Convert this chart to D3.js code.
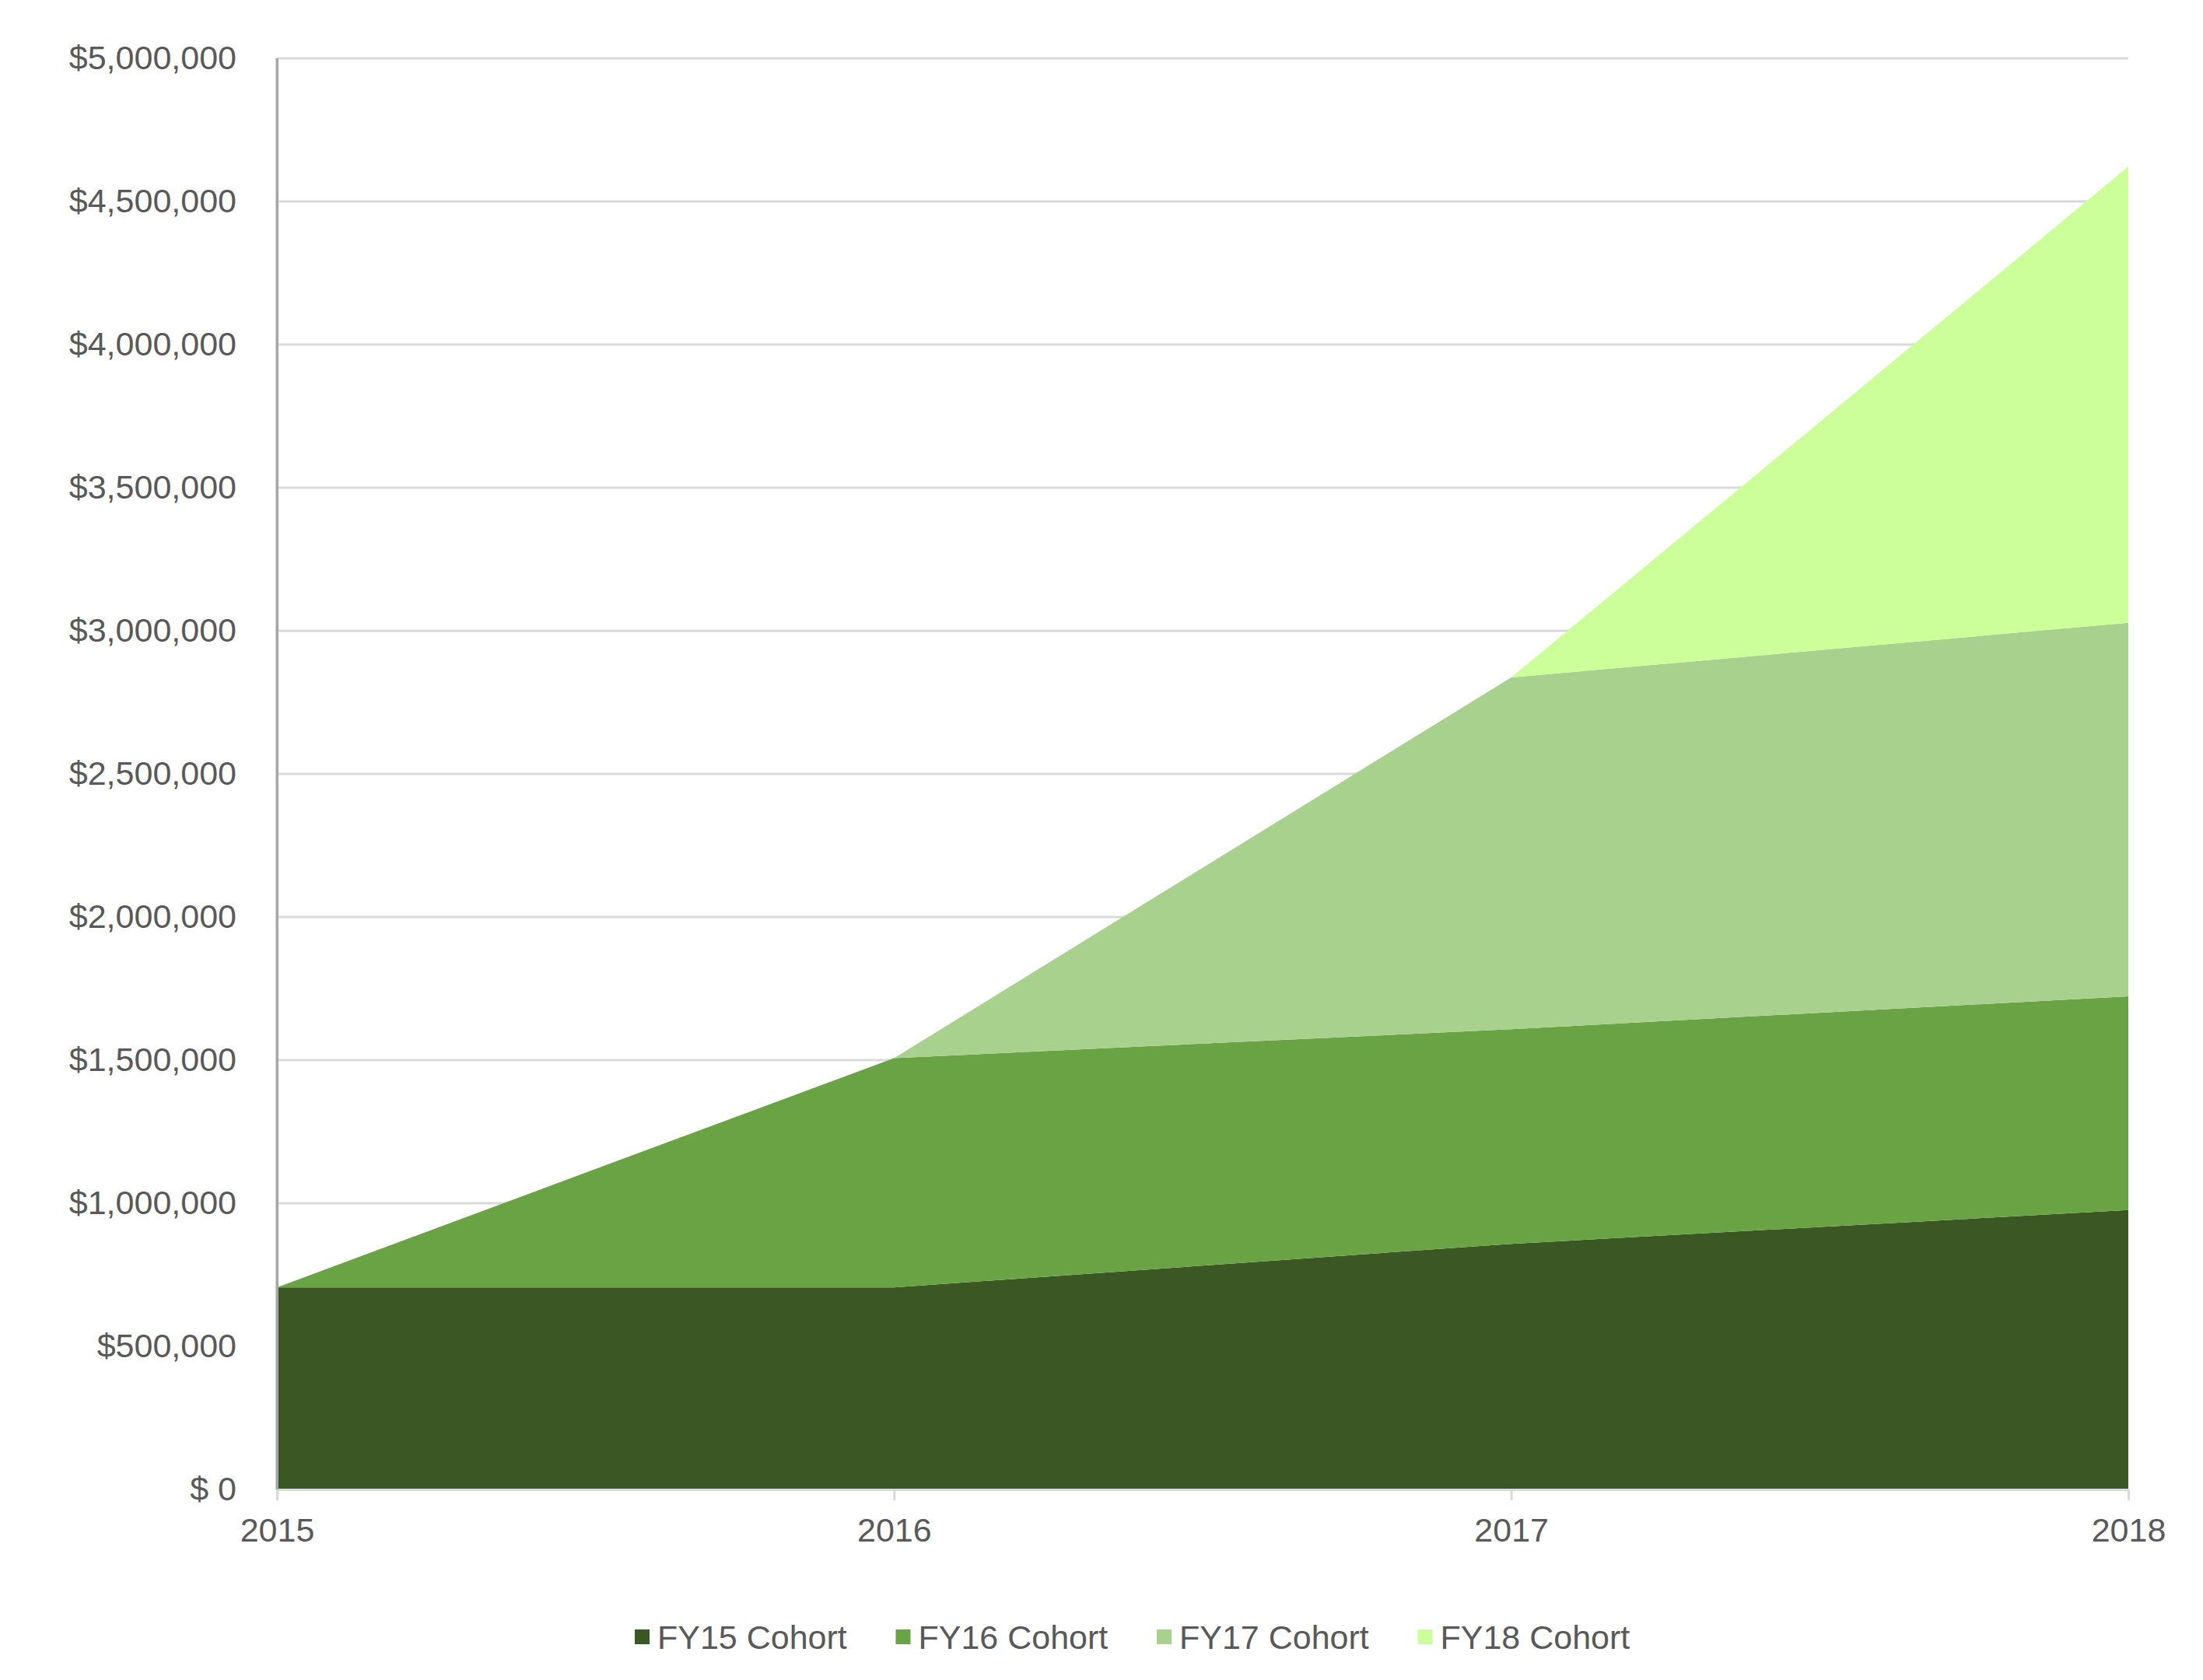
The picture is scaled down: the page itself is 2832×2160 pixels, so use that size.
<!DOCTYPE html>
<html>
<head>
<meta charset="utf-8">
<script src="https://cdn.jsdelivr.net/npm/d3@7"></script>
<style>
  html, body { margin: 0; padding: 0; background: #ffffff; }
  svg { display: block; }
  text { font-family: "Liberation Sans", Arial, sans-serif; fill: #595959; }
</style>
</head>
<body>
<svg id="chart" width="2832" height="2160"></svg>
<script>
// ---- Data ----
const years = [2015, 2016, 2017, 2018];
const seriesNames = ["FY15 Cohort", "FY16 Cohort", "FY17 Cohort", "FY18 Cohort"];
const fy15 = [706000, 706000, 858000, 976000];
const fy16 = [0, 801000, 750000, 747000];
const fy17 = [0, 0, 1229000, 1305000];
const fy18 = [0, 0, 0, 1594000];
const colors = ["#3A5724", "#6AA343", "#A9D18E", "#CCFF99"];
const yTicks = [0, 500000, 1000000, 1500000, 2000000, 2500000, 3000000, 3500000, 4000000, 4500000, 5000000];

const rows = years.map((y, i) => ({
  year: y,
  "FY15 Cohort": fy15[i],
  "FY16 Cohort": fy16[i],
  "FY17 Cohort": fy17[i],
  "FY18 Cohort": fy18[i]
}));

// ---- Layout ----
const svg = d3.select("#chart");
const margin = { left: 356, right: 2832 - 2736, top: 75, bottom: 2160 - 1915 };
const W = 2832, H = 2160;
const x = d3.scaleLinear().domain([2015, 2018]).range([margin.left, W - margin.right]);
const y = d3.scaleLinear().domain([0, 5000000]).range([H - margin.bottom, margin.top]);

const fmt = v => v === 0 ? "$ 0" : "$" + d3.format(",")(v);

// gridlines
svg.append("g")
  .selectAll("line")
  .data(yTicks.filter(d => d > 0))
  .join("line")
  .attr("x1", margin.left).attr("x2", W - margin.right)
  .attr("y1", d => y(d)).attr("y2", d => y(d))
  .attr("stroke", "#D9D9D9").attr("stroke-width", 3);

// stacked areas
const stack = d3.stack().keys(seriesNames);
const stacked = stack(rows);
const area = d3.area()
  .x(d => x(d.data.year))
  .y0(d => y(d[0]))
  .y1(d => y(d[1]));

svg.append("g")
  .selectAll("path")
  .data(stacked)
  .join("path")
  .attr("d", area)
  .attr("fill", (d, i) => colors[i]);

// y axis
const yAxis = d3.axisLeft(y).tickValues(yTicks).tickFormat(fmt).tickSize(0).tickPadding(52);
const gy = svg.append("g").attr("transform", `translate(${margin.left},0)`).call(yAxis);
gy.select(".domain").attr("stroke", "#A6A6A6").attr("stroke-width", 3);
gy.selectAll("text")
  .attr("font-size", 43)
  .attr("fill", "#595959")
  .style("font-family", "'Liberation Sans', Arial, sans-serif");

// x axis
const xAxis = d3.axisBottom(x).tickValues(years).tickFormat(d3.format("d")).tickSize(14).tickPadding(22).tickSizeOuter(0);
const gx = svg.append("g").attr("transform", `translate(0,${H - margin.bottom})`).call(xAxis);
gx.select(".domain").attr("stroke", "#D9D9D9").attr("stroke-width", 3);
gx.selectAll(".tick line").attr("stroke", "#D9D9D9").attr("stroke-width", 3);
gx.selectAll("text")
  .attr("font-size", 43)
  .attr("fill", "#595959")
  .style("font-family", "'Liberation Sans', Arial, sans-serif");

// redraw left axis line on top
svg.append("line")
  .attr("x1", margin.left).attr("x2", margin.left)
  .attr("y1", margin.top).attr("y2", H - margin.bottom)
  .attr("stroke", "#A6A6A6").attr("stroke-width", 3);

// legend
const legendStart = 816, legendStep = 335.5, legendY = 2105;
const lg = svg.append("g")
  .selectAll("g")
  .data(seriesNames)
  .join("g")
  .attr("transform", (d, i) => `translate(${legendStart + i * legendStep},${legendY})`);
lg.append("rect")
  .attr("x", 0).attr("y", -10).attr("width", 19).attr("height", 19)
  .attr("fill", (d, i) => colors[i]);
lg.append("text")
  .attr("x", 29).attr("y", 0)
  .attr("dy", "0.35em")
  .attr("font-size", 43)
  .text(d => d);
</script>
</body>
</html>
